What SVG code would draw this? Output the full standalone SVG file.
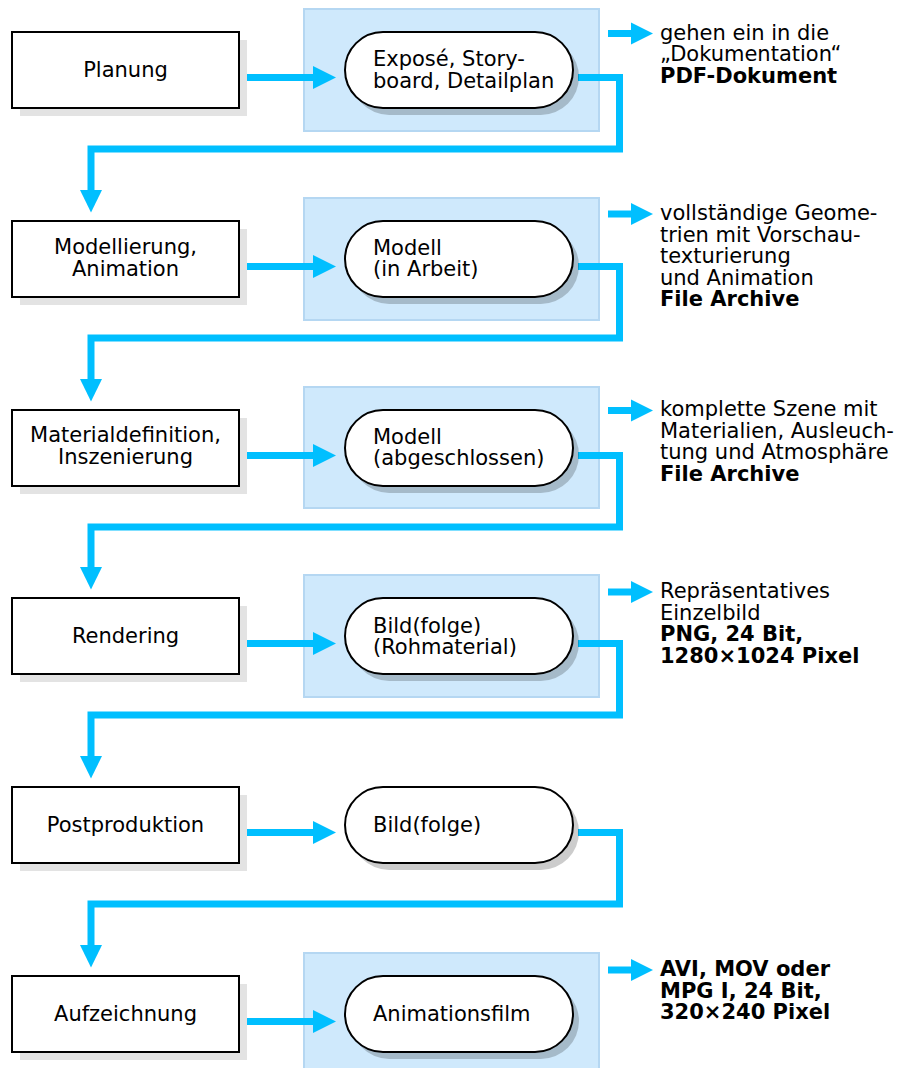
<svg xmlns="http://www.w3.org/2000/svg" width="901" height="1068" viewBox="0 0 901 1068">
<style>
text{font-family:"DejaVu Sans","Verdana",sans-serif;font-size:21px;fill:#000}
.b{font-weight:bold}
.box{fill:#fff;stroke:#000;stroke-width:2}
.bsh{fill:#e3e3e3}
.pill{fill:#fff;stroke:#000;stroke-width:2}
.psh{fill:#000;fill-opacity:0.2}
.panel{fill:#cfe9fc;stroke:#b5d7f2;stroke-width:2}
.ln{fill:none;stroke:#00bfff;stroke-width:7;stroke-linejoin:miter}
.hd{fill:#00bfff}
.c{text-anchor:middle}
</style>
<g id="panels">
<rect class="panel" x="304" y="9" width="295" height="122"/>
<rect class="panel" x="304" y="198" width="295" height="122"/>
<rect class="panel" x="304" y="387" width="295" height="121"/>
<rect class="panel" x="304" y="575" width="295" height="122"/>
<rect class="panel" x="304" y="953" width="295" height="125"/>
</g>
<g id="connectors">
<!-- box to pill arrows -->
<path class="ln" d="M246 77.5H314"/><polygon class="hd" points="313,66 336,77.5 313,89"/>
<path class="ln" d="M246 266.5H314"/><polygon class="hd" points="313,255 336,266.5 313,278"/>
<path class="ln" d="M246 455.5H314"/><polygon class="hd" points="313,444 336,455.5 313,467"/>
<path class="ln" d="M246 643.5H314"/><polygon class="hd" points="313,632 336,643.5 313,655"/>
<path class="ln" d="M246 832.5H314"/><polygon class="hd" points="313,821 336,832.5 313,844"/>
<path class="ln" d="M246 1021.5H314"/><polygon class="hd" points="313,1010 336,1021.5 313,1033"/>
<!-- pill to next box -->
<path class="ln" d="M578 77.5H619.5V149H91V191"/><polygon class="hd" points="80,190 102,190 91,212.5"/>
<path class="ln" d="M578 266.5H619.5V338H91V380"/><polygon class="hd" points="80,379 102,379 91,401.5"/>
<path class="ln" d="M578 455.5H619.5V527H91V568"/><polygon class="hd" points="80,567 102,567 91,589.5"/>
<path class="ln" d="M578 643.5H619.5V715H91V757"/><polygon class="hd" points="80,756 102,756 91,778.5"/>
<path class="ln" d="M578 832.5H619.5V904H91V946"/><polygon class="hd" points="80,945 102,945 91,967.5"/>
<!-- output arrows -->
<path class="ln" d="M608 33.5H632"/><polygon class="hd" points="631,22.5 653,33.5 631,44.5"/>
<path class="ln" d="M608 214H632"/><polygon class="hd" points="631,203 653,214 631,225"/>
<path class="ln" d="M608 410.5H632"/><polygon class="hd" points="631,399.5 653,410.5 631,421.5"/>
<path class="ln" d="M608 592H632"/><polygon class="hd" points="631,581 653,592 631,603"/>
<path class="ln" d="M608 970H632"/><polygon class="hd" points="631,959 653,970 631,981"/>
</g>
<g id="planung">
<rect class="bsh" x="20" y="40" width="227" height="76"/>
<rect class="box" x="12" y="32" width="227" height="76"/>
<text class="c" x="125.5" y="77">Planung</text>
</g>
<g id="expose">
<rect class="psh" x="351" y="39" width="228" height="76" rx="38"/>
<rect class="pill" x="345" y="32" width="228" height="76" rx="38"/>
<text x="373" y="66">Exposé, Story-<tspan x="373" dy="22">board, Detailplan</tspan></text>
</g>
<g id="out-doku">
<text x="660" y="39.5">gehen ein in die<tspan x="660" dy="21.5">„Dokumentation“</tspan><tspan class="b" x="660" dy="21.5">PDF-Dokument</tspan></text>
</g>
<g id="modellierung">
<rect class="bsh" x="20" y="229" width="227" height="76"/>
<rect class="box" x="12" y="221" width="227" height="76"/>
<text class="c" x="125.5" y="254">Modellierung,<tspan x="125.5" dy="21.5">Animation</tspan></text>
</g>
<g id="modell-arbeit">
<rect class="psh" x="351" y="228" width="228" height="76" rx="38"/>
<rect class="pill" x="345" y="221" width="228" height="76" rx="38"/>
<text x="373" y="254.5">Modell<tspan x="373" dy="21.5">(in Arbeit)</tspan></text>
</g>
<g id="out-geometrie">
<text x="660" y="220">vollständige Geome-<tspan x="660" dy="21.5">trien mit Vorschau-</tspan><tspan x="660" dy="21.5">texturierung</tspan><tspan x="660" dy="21.5">und Animation</tspan><tspan class="b" x="660" dy="21.5">File Archive</tspan></text>
</g>
<g id="materialdefinition">
<rect class="bsh" x="20" y="418" width="227" height="76"/>
<rect class="box" x="12" y="410" width="227" height="76"/>
<text class="c" x="125.5" y="442">Materialdefinition,<tspan x="125.5" dy="21.5">Inszenierung</tspan></text>
</g>
<g id="modell-abgeschlossen">
<rect class="psh" x="351" y="417" width="228" height="76" rx="38"/>
<rect class="pill" x="345" y="410" width="228" height="76" rx="38"/>
<text x="373" y="443.5">Modell<tspan x="373" dy="21.5">(abgeschlossen)</tspan></text>
</g>
<g id="out-szene">
<text x="660" y="416">komplette Szene mit<tspan x="660" dy="21.5">Materialien, Ausleuch-</tspan><tspan x="660" dy="21.5">tung und Atmosphäre</tspan><tspan class="b" x="660" dy="21.5">File Archive</tspan></text>
</g>
<g id="rendering">
<rect class="bsh" x="20" y="606" width="227" height="76"/>
<rect class="box" x="12" y="598" width="227" height="76"/>
<text class="c" x="125.5" y="643">Rendering</text>
</g>
<g id="bildfolge-roh">
<rect class="psh" x="351" y="605" width="228" height="76" rx="38"/>
<rect class="pill" x="345" y="598" width="228" height="76" rx="38"/>
<text x="373" y="632.5">Bild(folge)<tspan x="373" dy="21.5">(Rohmaterial)</tspan></text>
</g>
<g id="out-bild">
<text x="660" y="598">Repräsentatives<tspan x="660" dy="21.5">Einzelbild</tspan><tspan class="b" x="660" dy="21.5">PNG, 24 Bit,</tspan><tspan class="b" x="660" dy="21.5">1280×1024 Pixel</tspan></text>
</g>
<g id="postproduktion">
<rect class="bsh" x="20" y="795" width="227" height="76"/>
<rect class="box" x="12" y="787" width="227" height="76"/>
<text class="c" x="125.5" y="832">Postproduktion</text>
</g>
<g id="bildfolge">
<rect class="psh" x="351" y="794" width="228" height="76" rx="38"/>
<rect class="pill" x="345" y="787" width="228" height="76" rx="38"/>
<text x="373" y="832">Bild(folge)</text>
</g>
<g id="aufzeichnung">
<rect class="bsh" x="20" y="984" width="227" height="76"/>
<rect class="box" x="12" y="976" width="227" height="76"/>
<text class="c" x="125.5" y="1021">Aufzeichnung</text>
</g>
<g id="animationsfilm">
<rect class="psh" x="351" y="983" width="228" height="76" rx="38"/>
<rect class="pill" x="345" y="976" width="228" height="76" rx="38"/>
<text x="373" y="1021">Animationsfilm</text>
</g>
<g id="out-film">
<text class="b" x="660" y="976">AVI, MOV oder<tspan x="660" dy="21.5">MPG I, 24 Bit,</tspan><tspan x="660" dy="21.5">320×240 Pixel</tspan></text>
</g>
</svg>
